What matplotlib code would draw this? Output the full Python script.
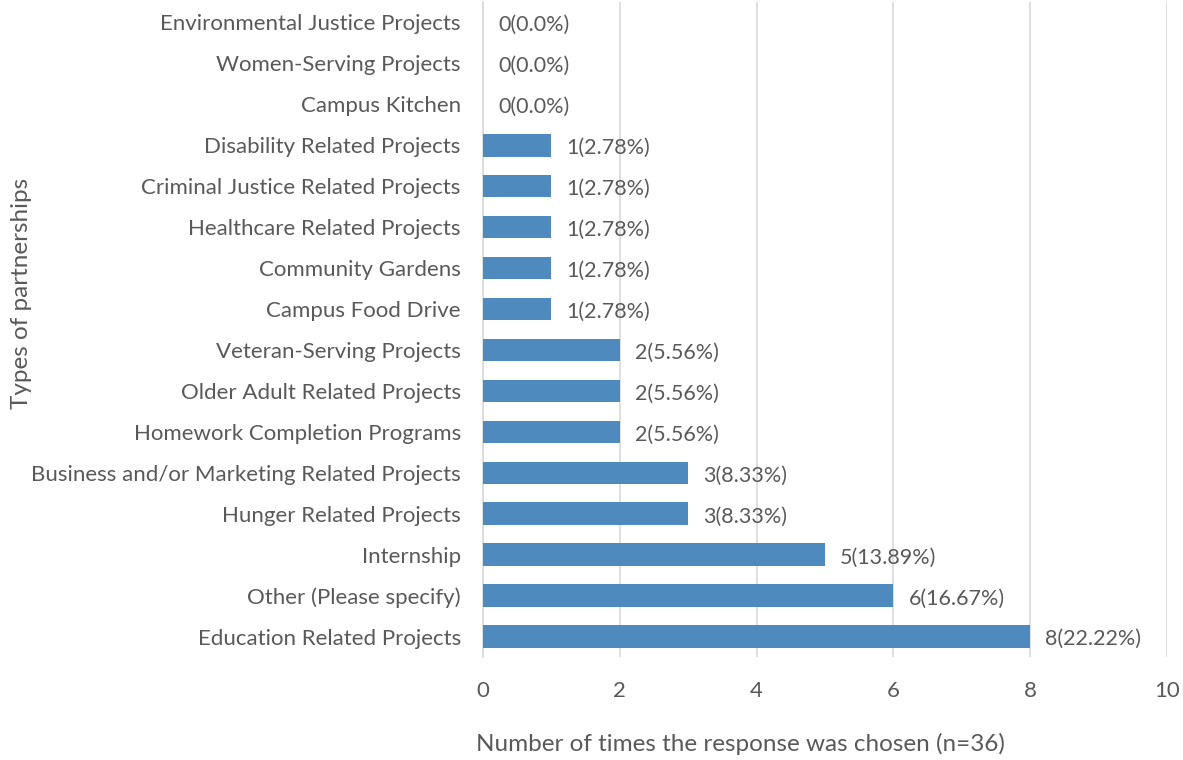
import matplotlib.pyplot as plt

# categories from bottom to top
categories = ['Education Related Projects', 'Other (Please specify)', 'Internship',
              'Hunger Related Projects', 'Business and/or Marketing Related Projects',
              'Homework Completion Programs', 'Older Adult Related Projects',
              'Veteran-Serving Projects', 'Campus Food Drive', 'Community Gardens',
              'Healthcare Related Projects', 'Criminal Justice Related Projects',
              'Disability Related Projects', 'Campus Kitchen',
              'Women-Serving Projects', 'Environmental Justice Projects']
counts = [8, 6, 5, 3, 3, 2, 2, 2, 1, 1, 1, 1, 1, 0, 0, 0]
percents = ['22.22%', '16.67%', '13.89%', '8.33%', '8.33%', '5.56%', '5.56%', '5.56%',
            '2.78%', '2.78%', '2.78%', '2.78%', '2.78%', '0.0%', '0.0%', '0.0%']

plt.rcParams['font.family'] = ['Lato', 'DejaVu Sans']
text_col = '#595959'

fig = plt.figure(figsize=(11.83, 7.6), dpi=100)
ax = fig.add_axes([483 / 1183, 1 - 657 / 760, (1167 - 483) / 1183, 655 / 760])

y = list(range(len(categories)))
ax.barh(y, counts, height=0.55, color='#4f8abf', zorder=3)
for yi, c, p in zip(y, counts, percents):
    ax.annotate(f'{c}({p})', (c, yi), xytext=(11, -2), textcoords='offset points',
                va='center', ha='left', fontsize=15.5, color=text_col)

ax.set_xlim(0, 10)
ax.set_ylim(-0.5, len(categories) - 0.5)
ax.set_xticks(range(0, 11, 2))
ax.set_yticks(y)
ax.set_yticklabels(categories)
ax.grid(axis='x', color='#d9d9d9', linewidth=1.2, zorder=0)
for s in ['top', 'right', 'bottom']:
    ax.spines[s].set_visible(False)
ax.spines['left'].set_color('#d9d9d9')
ax.spines['left'].set_linewidth(1.2)
ax.tick_params(axis='y', length=0, pad=16, labelsize=16, labelcolor=text_col)
ax.tick_params(axis='x', length=0, pad=17, labelsize=16, labelcolor=text_col)
ax.set_xlabel('Number of times the response was chosen (n=36)', fontsize=17.5,
              color=text_col)
ax.xaxis.set_label_coords(0.376, -0.116)
ax.set_ylabel('Types of partnerships', fontsize=17.5, color=text_col)
ax.yaxis.set_label_coords(-0.66, 0.555)

fig.savefig('out.png', dpi=100)
